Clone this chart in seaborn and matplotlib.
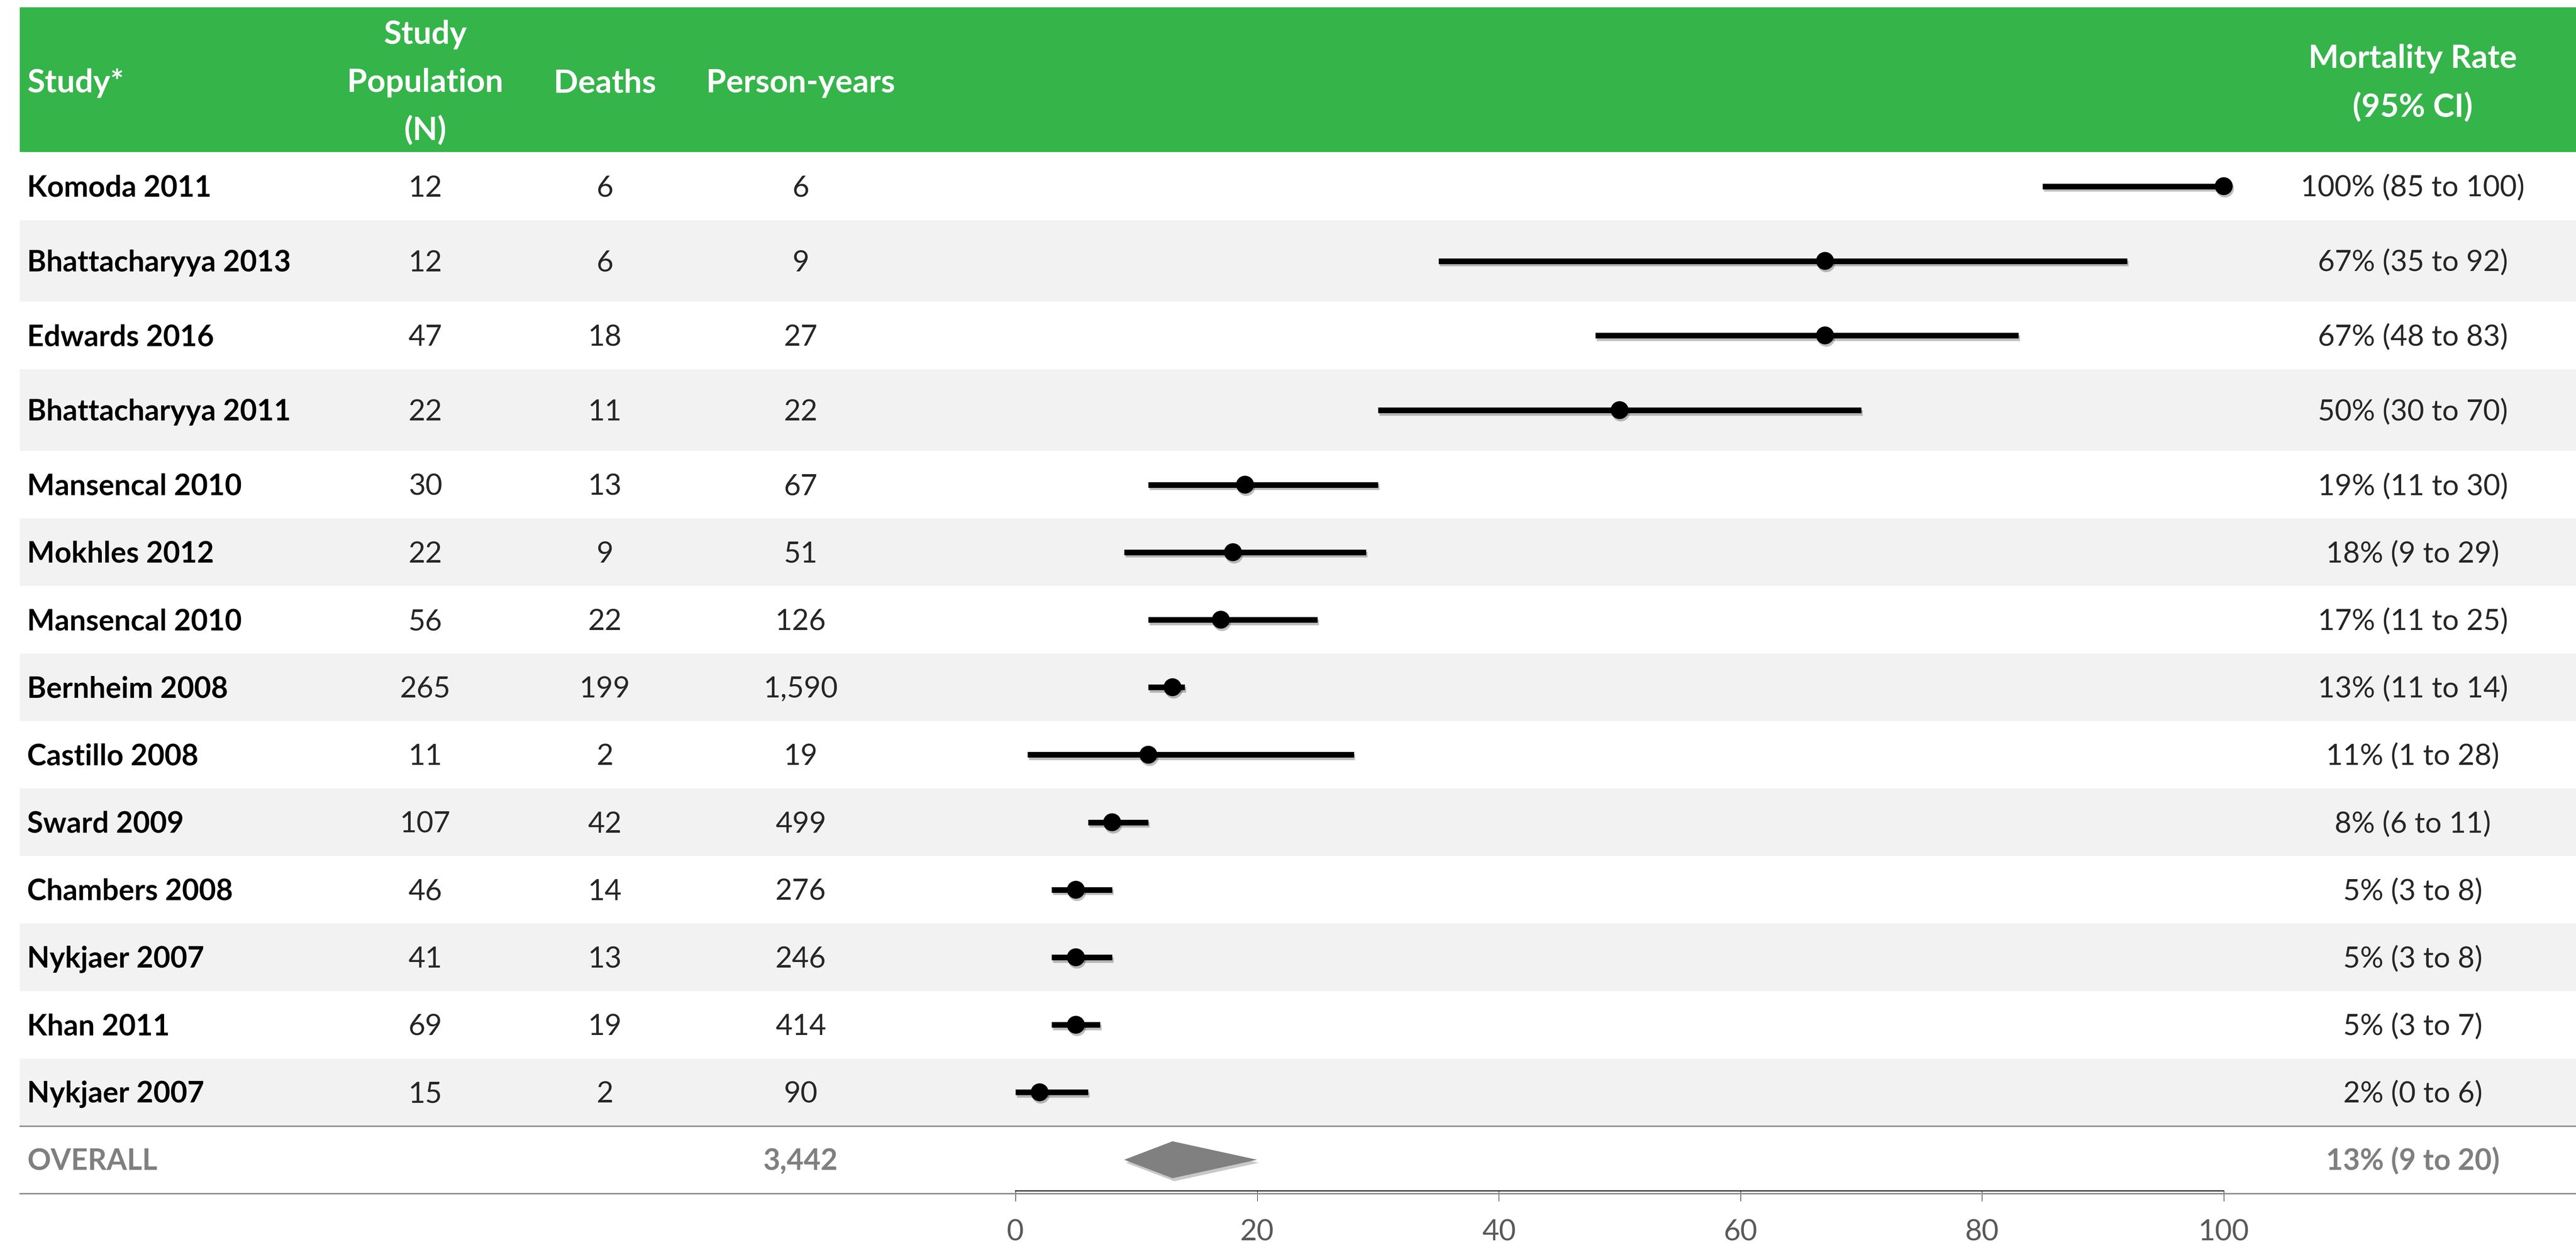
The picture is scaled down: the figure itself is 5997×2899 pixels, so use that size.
import numpy as np
import pandas as pd
import matplotlib
matplotlib.use("Agg")
import matplotlib.pyplot as plt
import matplotlib.patheffects as pe
import seaborn as sns

# ---------------- data ----------------
studies = ["Komoda 2011", "Bhattacharyya 2013", "Edwards 2016", "Bhattacharyya 2011",
           "Mansencal 2010", "Mokhles 2012", "Mansencal 2010", "Bernheim 2008",
           "Castillo 2008", "Sward 2009", "Chambers 2008", "Nykjaer 2007",
           "Khan 2011", "Nykjaer 2007"]
population = [12, 12, 47, 22, 30, 22, 56, 265, 11, 107, 46, 41, 69, 15]
deaths = [6, 6, 18, 11, 13, 9, 22, 199, 2, 42, 14, 13, 19, 2]
person_years = [6, 9, 27, 22, 67, 51, 126, 1590, 19, 499, 276, 246, 414, 90]
rate = [100, 67, 67, 50, 19, 18, 17, 13, 11, 8, 5, 5, 5, 2]
ci_low = [85, 35, 48, 30, 11, 9, 11, 11, 1, 6, 3, 3, 3, 0]
ci_high = [100, 92, 83, 70, 30, 29, 25, 14, 28, 11, 8, 8, 7, 6]

overall_label = "OVERALL"
overall_py = 3442
overall_rate = 13
overall_low = 9
overall_high = 20

xticks = [0, 20, 40, 60, 80, 100]

# ---------------- style ----------------
sns.set_theme(style="white")
plt.rcParams["font.family"] = ["Lato", "DejaVu Sans"]

GREEN = "#35B44A"
BAND = "#F2F2F2"
GRAY_TXT = "#7F7F7F"
TICK_TXT = "#595959"
FS = 49
FS_HEAD = 54

W, H = 5997, 2899
fig = plt.figure(figsize=(W / 100, H / 100), dpi=100)
ax = fig.add_axes([0, 0, 1, 1])

X0_PX, X100_PX = 2364, 5177
ppu = (X100_PX - X0_PX) / 100.0
ax.set_xlim(-X0_PX / ppu, (W - X0_PX) / ppu)
ax.set_ylim(H, 0)


def px(xp):
    return (xp - X0_PX) / ppu


LEFT = 46
HEADER_TOP, HEADER_BOT = 17, 354
row_heights = [159, 189, 158, 190] + [157.2] * 10
edges = HEADER_BOT + np.concatenate([[0], np.cumsum(row_heights)])
centers = (edges[:-1] + edges[1:]) / 2
overall_top = edges[-1]
overall_bot = 2779
overall_c = (overall_top + overall_bot) / 2
AXIS_Y = 2773
CAP_HALF = 24

# backgrounds
ax.axhspan(HEADER_TOP, HEADER_BOT, xmin=LEFT / W, xmax=1, color=GREEN, lw=0, zorder=0)
for i in range(len(studies)):
    if i % 2 == 1:
        ax.axhspan(edges[i], edges[i + 1], xmin=LEFT / W, xmax=1, color=BAND, lw=0, zorder=0)
for yy in (overall_top, overall_bot):
    ax.axhline(yy, xmin=LEFT / W, xmax=1, color="#8C8C8C", lw=2.4, zorder=1)

# header text
col_study, col_pop, col_deaths, col_py, col_rate = 63, 990, 1408, 1864, 5617
hkw = dict(color="white", fontsize=FS_HEAD, fontweight="bold", va="baseline")
ax.text(px(col_study), 215, "Study*", ha="left", **hkw)
for txt, yb in (("Study", 102), ("Population", 214), ("(N)", 326)):
    ax.text(px(col_pop), yb, txt, ha="center", **hkw)
ax.text(px(col_deaths), 215, "Deaths", ha="center", **hkw)
ax.text(px(col_py), 215, "Person-years", ha="center", **hkw)
ax.text(px(col_rate), 158, "Mortality Rate", ha="center", **hkw)
ax.text(px(col_rate), 272, "(95% CI)", ha="center", **hkw)

# body text
for i, name in enumerate(studies):
    yb = centers[i] + CAP_HALF
    ax.text(px(col_study), yb, name, ha="left", va="baseline", fontsize=FS,
            fontweight="bold", color="black")
    ax.text(px(col_pop), yb, f"{population[i]:,}", ha="center", va="baseline", fontsize=FS)
    ax.text(px(col_deaths), yb, f"{deaths[i]:,}", ha="center", va="baseline", fontsize=FS)
    ax.text(px(col_py), yb, f"{person_years[i]:,}", ha="center", va="baseline", fontsize=FS)
    ax.text(px(col_rate), yb, f"{rate[i]}% ({ci_low[i]} to {ci_high[i]})",
            ha="center", va="baseline", fontsize=FS)

yb = overall_c + CAP_HALF
okw = dict(va="baseline", fontsize=FS, fontweight="bold", color=GRAY_TXT)
ax.text(px(col_study), yb, overall_label, ha="left", **okw)
ax.text(px(col_py), yb, f"{overall_py:,}", ha="center", **okw)
ax.text(px(col_rate), yb, f"{overall_rate}% ({overall_low} to {overall_high})", ha="center", **okw)

# forest marks
df = pd.DataFrame({"study": studies, "rate": rate, "lo": ci_low, "hi": ci_high, "y": centers})
shadow_line = [pe.SimpleLineShadow(offset=(2, -4), shadow_color="black", alpha=0.25), pe.Normal()]
lc = ax.hlines(df["y"], df["lo"], df["hi"], color="black", lw=9.5, zorder=3)
lc.set_capstyle("butt")
lc.set_path_effects(shadow_line)
sns.scatterplot(data=df, x="rate", y="y", color="black", s=900, edgecolor="black",
                linewidth=0, ax=ax, zorder=4, legend=False)
ax.collections[-1].set_path_effects(
    [pe.SimplePatchShadow(offset=(2, -4), shadow_rgbFace="black", alpha=0.25), pe.Normal()])

dh = 43
diamond = ax.fill([overall_low, overall_rate, overall_high, overall_rate],
                  [overall_c, overall_c - dh, overall_c, overall_c + dh],
                  color="#808080", lw=0, zorder=3)[0]
diamond.set_path_effects([pe.SimplePatchShadow(offset=(3, -5), alpha=0.25), pe.Normal()])

# axis
for s in ("left", "top", "right"):
    ax.spines[s].set_visible(False)
ax.spines["bottom"].set_position(("data", AXIS_Y))
ax.spines["bottom"].set_bounds(0, 100)
ax.spines["bottom"].set_linewidth(1.6)
ax.spines["bottom"].set_color("black")
ax.set_xticks(xticks)
ax.set_xticklabels([str(t) for t in xticks])
ax.set_yticks([])
ax.tick_params(axis="x", bottom=True, direction="out", length=17, width=0.8,
               color="black", pad=30, labelsize=FS, labelcolor=TICK_TXT)
ax.grid(False)
ax.set_xlabel("")
ax.set_ylabel("")
ax.set_facecolor("white")

fig.savefig("out.png", dpi=100, facecolor="white")
